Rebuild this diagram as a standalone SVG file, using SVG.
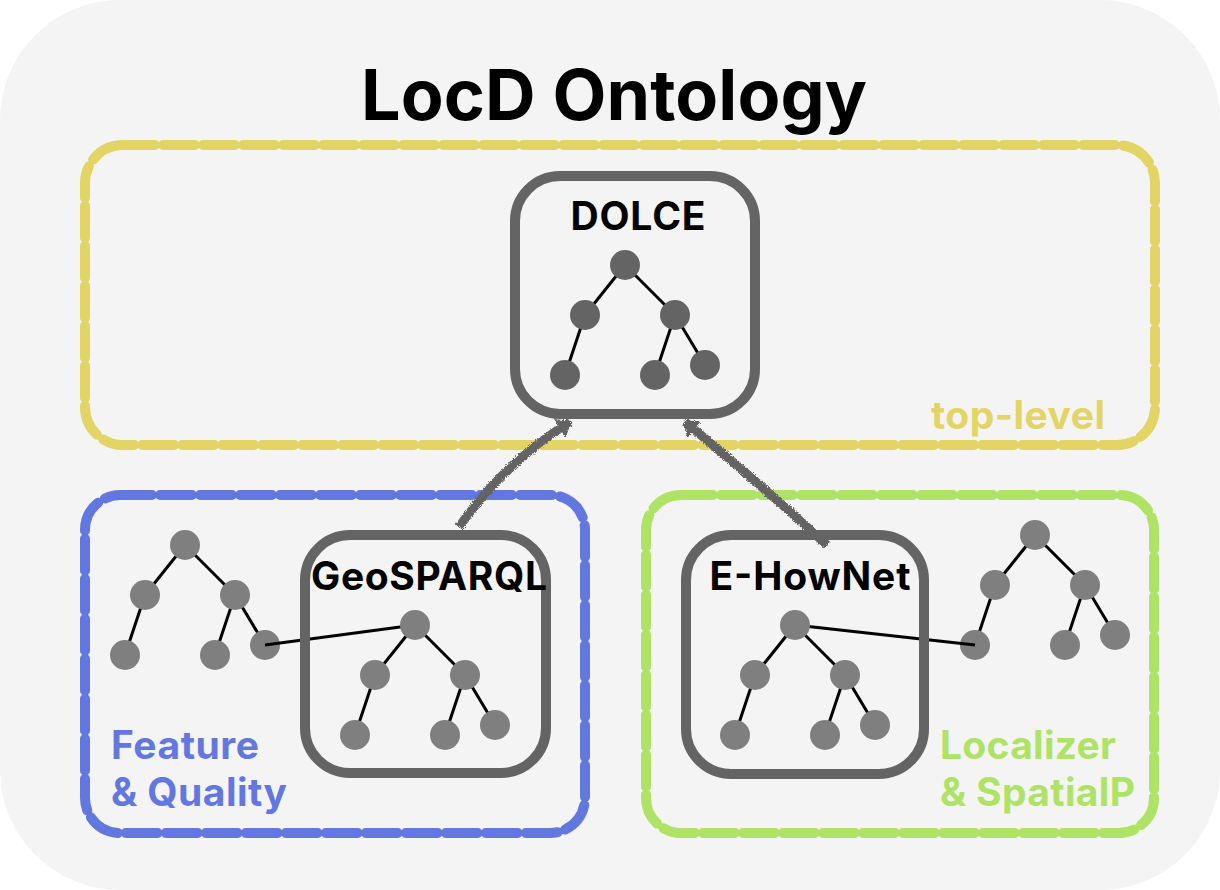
<svg xmlns="http://www.w3.org/2000/svg" width="1220" height="890" viewBox="0 0 1220 890">
<defs>
<style>
.bg{fill:#f4f4f4}
.zone{fill:none;stroke-width:10;stroke-linecap:round;stroke-linejoin:round;stroke-dasharray:32 8}
.yel{stroke:#e3d466}
.blu{stroke:#6377e0}
.grn{stroke:#aee366}
.onto{fill:none;stroke:#646464;stroke-width:10}
.t{font-family:Inter,"Liberation Sans",sans-serif;font-weight:700}
.name{font-size:39px;fill:#000;text-anchor:middle}
.lbl{font-size:39px}
.e{stroke:#000;stroke-width:3;fill:none}
.n1{fill:#646464}
.n2{fill:#7f7f7f}
.conn{fill:none;stroke:#646464;stroke-width:9;stroke-linecap:butt}
</style>
<filter id="rough" x="-20%" y="-20%" width="140%" height="140%">
<feTurbulence type="fractalNoise" baseFrequency="0.9" numOctaves="2" seed="3" result="n"/>
<feDisplacementMap in="SourceGraphic" in2="n" scale="5" xChannelSelector="R" yChannelSelector="G"/>
</filter>
<marker id="ah" viewBox="0 0 14 22" refX="12" refY="11" markerWidth="14" markerHeight="22" markerUnits="userSpaceOnUse" orient="auto">
<path d="M0,0 L14,11 L0,22 Z" fill="#646464"/>
</marker>
</defs>

<rect class="bg" x="0" y="0" width="1220" height="890" rx="120"/>

<g id="title">
<text class="t" x="614" y="120" font-size="70" text-anchor="middle" fill="#000" textLength="506" lengthAdjust="spacing">LocD Ontology</text>
</g>

<g id="top-level">
<rect class="zone yel" x="85" y="145" width="1070" height="300" rx="38"/>
<text class="t lbl" x="1105" y="429" text-anchor="end" fill="#e3d466" textLength="174" lengthAdjust="spacing">top-level</text>
</g>

<g id="feature-quality">
<rect class="zone blu" x="85" y="495" width="500" height="338" rx="35"/>
<text class="t lbl" x="111" y="759" fill="#6377e0" textLength="148" lengthAdjust="spacing">Feature</text>
<text class="t lbl" x="111" y="806" fill="#6377e0" textLength="176" lengthAdjust="spacing">&amp; Quality</text>
<g id="fq-tree">
<path class="e" d="M185,545 L145,595 M185,545 L235,595 M145,595 L125,655 M235,595 L215,655 M235,595 L265,645"/>
<circle class="n2" cx="185" cy="545" r="15"/>
<circle class="n2" cx="145" cy="595" r="15"/>
<circle class="n2" cx="235" cy="595" r="15"/>
<circle class="n2" cx="125" cy="655" r="15"/>
<circle class="n2" cx="215" cy="655" r="15"/>
<circle class="n2" cx="265" cy="645" r="15"/>
</g>
</g>

<g id="localizer-spatialp">
<rect class="zone grn" x="646" y="495" width="508" height="338" rx="35"/>
<text class="t lbl" x="940" y="759" fill="#aee366" textLength="176" lengthAdjust="spacing">Localizer</text>
<text class="t lbl" x="940" y="806" fill="#aee366" textLength="195" lengthAdjust="spacing">&amp; SpatialP</text>
<g id="ls-tree">
<path class="e" d="M1035,535 L995,585 M1035,535 L1085,585 M995,585 L975,645 M1085,585 L1065,645 M1085,585 L1115,635"/>
<circle class="n2" cx="1035" cy="535" r="15"/>
<circle class="n2" cx="995" cy="585" r="15"/>
<circle class="n2" cx="1085" cy="585" r="15"/>
<circle class="n2" cx="975" cy="645" r="15"/>
<circle class="n2" cx="1065" cy="645" r="15"/>
<circle class="n2" cx="1115" cy="635" r="15"/>
</g>
</g>

<g id="connectors">
<path class="e" d="M265,645 L415,625"/>
<path class="e" d="M795,625 L975,645"/>
<g filter="url(#rough)">
<path class="conn" d="M459,527 Q505,462 570,422" marker-end="url(#ah)"/>
<path class="conn" d="M827,545 Q750,475 685,422" marker-end="url(#ah)"/>
</g>
</g>

<g id="dolce">
<rect class="onto" x="515" y="176" width="240" height="238" rx="45"/>
<text class="t name" x="638" y="230" textLength="135" lengthAdjust="spacing">DOLCE</text>
<path class="e" d="M625,265 L585,315 M625,265 L675,315 M585,315 L565,375 M675,315 L655,375 M675,315 L705,365"/>
<circle class="n1" cx="625" cy="265" r="15"/>
<circle class="n1" cx="585" cy="315" r="15"/>
<circle class="n1" cx="675" cy="315" r="15"/>
<circle class="n1" cx="565" cy="375" r="15"/>
<circle class="n1" cx="655" cy="375" r="15"/>
<circle class="n1" cx="705" cy="365" r="15"/>
</g>

<g id="geosparql">
<rect class="onto" x="305" y="535" width="241" height="238" rx="45"/>
<text class="t name" x="429" y="590" textLength="236" lengthAdjust="spacing">GeoSPARQL</text>
<path class="e" d="M415,625 L375,675 M415,625 L465,675 M375,675 L355,735 M465,675 L445,735 M465,675 L495,725"/>
<circle class="n2" cx="415" cy="625" r="15"/>
<circle class="n2" cx="375" cy="675" r="15"/>
<circle class="n2" cx="465" cy="675" r="15"/>
<circle class="n2" cx="355" cy="735" r="15"/>
<circle class="n2" cx="445" cy="735" r="15"/>
<circle class="n2" cx="495" cy="725" r="15"/>
</g>

<g id="e-hownet">
<rect class="onto" x="686" y="535" width="238" height="239" rx="45"/>
<text class="t name" x="810" y="590" textLength="201" lengthAdjust="spacing">E-HowNet</text>
<path class="e" d="M795,625 L755,675 M795,625 L845,675 M755,675 L735,735 M845,675 L825,735 M845,675 L875,725"/>
<circle class="n2" cx="795" cy="625" r="15"/>
<circle class="n2" cx="755" cy="675" r="15"/>
<circle class="n2" cx="845" cy="675" r="15"/>
<circle class="n2" cx="735" cy="735" r="15"/>
<circle class="n2" cx="825" cy="735" r="15"/>
<circle class="n2" cx="875" cy="725" r="15"/>
</g>
</svg>
